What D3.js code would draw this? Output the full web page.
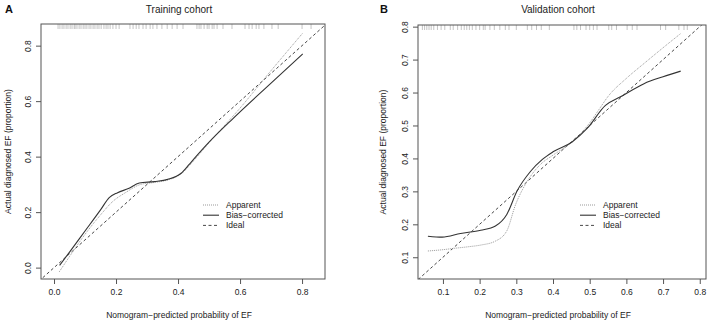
<!DOCTYPE html>
<html>
<head>
<meta charset="utf-8">
<script src="https://cdn.jsdelivr.net/npm/d3@7"></script>
<style>
  html, body { margin: 0; padding: 0; background: #fff; }
  svg { display: block; font-family: "Liberation Sans", Arial, sans-serif; }
</style>
</head>
<body>
<svg id="chart" width="708" height="322"></svg>
<script>
// ---------- DATA ----------
const panelLetters = ["A", "B"];
const panelTitles = ["Training cohort", "Validation cohort"];
const xAxisTitle = "Nomogram\u2212predicted probability of EF";
const yAxisTitle = "Actual diagnosed EF (proportion)";
const legendLabels = ["Apparent", "Bias\u2212corrected", "Ideal"];

const xTicksA = [0.0, 0.2, 0.4, 0.6, 0.8];
const yTicksA = [0.0, 0.2, 0.4, 0.6, 0.8];
const xTicksB = [0.1, 0.2, 0.3, 0.4, 0.5, 0.6, 0.7, 0.8];
const yTicksB = [0.1, 0.2, 0.3, 0.4, 0.5, 0.6, 0.7, 0.8];

// Training cohort
const apparentA_x = [0.017, 0.05, 0.10, 0.15, 0.189, 0.23, 0.28, 0.324, 0.367, 0.41, 0.45, 0.50, 0.60, 0.70, 0.802];
const apparentA_y = [-0.015, 0.04, 0.12, 0.19, 0.238, 0.27, 0.30, 0.307, 0.316, 0.338, 0.385, 0.45, 0.575, 0.71, 0.845];
const biasA_x = [0.018, 0.05, 0.10, 0.15, 0.178, 0.205, 0.24, 0.275, 0.324, 0.367, 0.41, 0.436, 0.45, 0.50, 0.578, 0.70, 0.802];
const biasA_y = [0.008, 0.056, 0.132, 0.208, 0.252, 0.27, 0.285, 0.305, 0.31, 0.318, 0.34, 0.372, 0.39, 0.452, 0.538, 0.665, 0.77];
const rugA = [0.013, 0.019, 0.026, 0.032, 0.039, 0.045, 0.052, 0.058, 0.065, 0.068, 0.074, 0.081, 0.087, 0.094, 0.10,
  0.106, 0.113, 0.119, 0.126, 0.132, 0.139, 0.145, 0.152, 0.161, 0.168, 0.174, 0.181, 0.19, 0.20, 0.21,
  0.245, 0.255, 0.265, 0.274, 0.287, 0.297, 0.31, 0.319, 0.332, 0.348, 0.365, 0.381, 0.397, 0.416,
  0.461, 0.468, 0.474, 0.484, 0.494, 0.50, 0.51, 0.516, 0.526, 0.545, 0.574, 0.616, 0.629, 0.639,
  0.652, 0.661, 0.677, 0.703, 0.723, 0.80, 0.829];

// Validation cohort
const apparentB_x = [0.059, 0.10, 0.13, 0.17, 0.203, 0.243, 0.274, 0.298, 0.33, 0.366, 0.40, 0.45, 0.50, 0.525, 0.55, 0.60, 0.65, 0.70, 0.748];
const apparentB_y = [0.119, 0.123, 0.127, 0.132, 0.137, 0.149, 0.18, 0.26, 0.331, 0.382, 0.41, 0.448, 0.508, 0.548, 0.588, 0.643, 0.69, 0.736, 0.779];
const biasB_x = [0.059, 0.098, 0.148, 0.203, 0.243, 0.274, 0.302, 0.339, 0.371, 0.40, 0.452, 0.493, 0.543, 0.584, 0.648, 0.70, 0.748];
const biasB_y = [0.164, 0.161, 0.172, 0.182, 0.195, 0.23, 0.301, 0.361, 0.397, 0.42, 0.45, 0.491, 0.561, 0.587, 0.627, 0.648, 0.665];
const rugB = [0.044, 0.05, 0.056, 0.062, 0.068, 0.075, 0.085, 0.095, 0.105, 0.12, 0.128, 0.14, 0.15, 0.158, 0.165,
  0.172, 0.18, 0.19, 0.20, 0.21, 0.215, 0.228, 0.24, 0.255, 0.27, 0.28, 0.30,
  0.33, 0.342, 0.355, 0.368, 0.39, 0.457, 0.465, 0.475, 0.49, 0.50, 0.51, 0.52,
  0.552, 0.56, 0.573, 0.602, 0.616, 0.629, 0.693, 0.707, 0.743, 0.757, 0.766];

// ---------- LAYOUT ----------
const panels = [
  { letter: panelLetters[0], title: panelTitles[0], left: 41, right: 325, top: 24, bottom: 279,
    xDomain: [-0.042, 0.874], yDomain: [-0.041, 0.878], xTicks: xTicksA, yTicks: yTicksA,
    app: [apparentA_x, apparentA_y], bias: [biasA_x, biasA_y], rug: rugA,
    letterX: 5, legendX: 203, yTitleX: 8 },
  { letter: panelLetters[1], title: panelTitles[1], left: 418, right: 706, top: 25, bottom: 279,
    xDomain: [0.032, 0.817], yDomain: [0.034, 0.805], xTicks: xTicksB, yTicks: yTicksB,
    app: [apparentB_x, apparentB_y], bias: [biasB_x, biasB_y], rug: rugB,
    letterX: 380, legendX: 580, yTitleX: 383 }
];

const svg = d3.select("#chart");
const textColor = "#222";
const axisColor = "#555";

panels.forEach((p, i) => {
  const x = d3.scaleLinear().domain(p.xDomain).range([p.left, p.right]);
  const y = d3.scaleLinear().domain(p.yDomain).range([p.bottom, p.top]);
  const g = svg.append("g");
  const clipId = "clip" + i;
  svg.append("defs").append("clipPath").attr("id", clipId)
    .append("rect").attr("x", p.left).attr("y", p.top)
    .attr("width", p.right - p.left).attr("height", p.bottom - p.top);

  // letter + title
  g.append("text").attr("x", p.letterX).attr("y", 13)
    .attr("font-size", 11).attr("font-weight", "bold").attr("fill", "#111").text(p.letter);
  g.append("text").attr("x", (p.left + p.right) / 2 - 4).attr("y", 13)
    .attr("text-anchor", "middle").attr("font-size", 10).attr("fill", textColor).text(p.title);

  // axes
  const xAx = d3.axisBottom(x).tickValues(p.xTicks).tickSize(5).tickSizeOuter(0).tickPadding(5)
    .tickFormat(d3.format(".1f"));
  const gx = g.append("g").attr("transform", `translate(0,${p.bottom})`).call(xAx);
  gx.select(".domain").remove();
  gx.selectAll("line").attr("stroke", axisColor);
  gx.selectAll("text").attr("font-size", 8.5).attr("fill", textColor)
    .attr("font-family", "Liberation Sans, Arial, sans-serif");

  const yAx = d3.axisLeft(y).tickValues(p.yTicks).tickSize(5).tickSizeOuter(0).tickPadding(0)
    .tickFormat(d3.format(".1f"));
  const gy = g.append("g").attr("transform", `translate(${p.left},0)`).call(yAx);
  gy.select(".domain").remove();
  gy.selectAll("line").attr("stroke", axisColor);
  gy.selectAll("text").attr("font-size", 8.5).attr("fill", textColor)
    .attr("font-family", "Liberation Sans, Arial, sans-serif")
    .attr("text-anchor", "middle").attr("dy", 0).attr("x", 0)
    .attr("transform", "translate(-10,0) rotate(-90)");

  // axis titles
  g.append("text").attr("x", (p.left + p.right) / 2 - 4).attr("y", 318)
    .attr("text-anchor", "middle").attr("font-size", 8.5).attr("fill", textColor).text(xAxisTitle);
  g.append("text").attr("transform", `translate(${p.yTitleX},${(p.top + p.bottom) / 2}) rotate(-90)`)
    .attr("text-anchor", "middle").attr("dy", "0.35em").attr("font-size", 8.5).attr("fill", textColor)
    .text(yAxisTitle);

  const plot = g.append("g").attr("clip-path", `url(#${clipId})`);

  // rug
  plot.selectAll("line.rug").data(p.rug).join("line").attr("class", "rug")
    .attr("x1", d => x(d)).attr("x2", d => x(d))
    .attr("y1", p.top).attr("y2", p.top + 5)
    .attr("stroke", "#b5b5b5").attr("stroke-width", 0.8);

  const line = d3.line().x(d => x(d[0])).y(d => y(d[1])).curve(d3.curveMonotoneX);

  // ideal
  plot.append("path").datum([[p.xDomain[0] - 0.1, p.xDomain[0] - 0.1], [1, 1]])
    .attr("d", d3.line().x(d => x(d[0])).y(d => y(d[1])))
    .attr("fill", "none").attr("stroke", "#333").attr("stroke-width", 0.9).attr("stroke-dasharray", "3,2.5");

  // apparent
  plot.append("path").datum(d3.zip(p.app[0], p.app[1])).attr("d", line)
    .attr("fill", "none").attr("stroke", "#999").attr("stroke-width", 1).attr("stroke-dasharray", "1,1");

  // bias-corrected
  plot.append("path").datum(d3.zip(p.bias[0], p.bias[1])).attr("d", line)
    .attr("fill", "none").attr("stroke", "#333").attr("stroke-width", 1.1);

  // box
  g.append("rect").attr("x", p.left).attr("y", p.top)
    .attr("width", p.right - p.left).attr("height", p.bottom - p.top)
    .attr("fill", "none").attr("stroke", axisColor).attr("stroke-width", 1);

  // legend
  const styles = [
    { stroke: "#999", dash: "1,1", w: 1 },
    { stroke: "#333", dash: null, w: 1.1 },
    { stroke: "#333", dash: "3,2.5", w: 0.9 }
  ];
  legendLabels.forEach((lab, k) => {
    const ly = 205 + k * 10.2;
    g.append("line").attr("x1", p.legendX).attr("x2", p.legendX + 16)
      .attr("y1", ly).attr("y2", ly)
      .attr("stroke", styles[k].stroke).attr("stroke-width", styles[k].w)
      .attr("stroke-dasharray", styles[k].dash);
    g.append("text").attr("x", p.legendX + 23).attr("y", ly).attr("dy", "0.35em")
      .attr("font-size", 8.5).attr("fill", textColor).text(lab);
  });
});
</script>
</body>
</html>
